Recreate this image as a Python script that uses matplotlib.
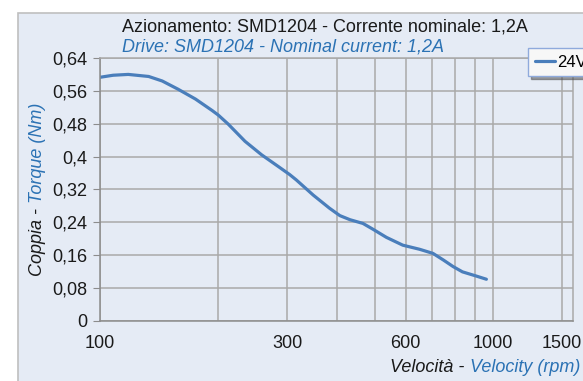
import matplotlib
matplotlib.use("Agg")
import matplotlib.pyplot as plt
from matplotlib.patches import Rectangle
from matplotlib.ticker import FixedLocator, FixedFormatter, NullFormatter

plt.rcParams['font.family'] = ['Liberation Sans', 'DejaVu Sans']

# torque curve (rpm, Nm)
speed = [100, 108, 118, 133, 144, 158, 175, 193, 200, 212, 234, 258, 285,
         304, 316, 349, 384, 408, 433, 467, 495, 536, 590, 651, 704, 748,
         792, 837, 906, 963]
torque = [0.593, 0.598, 0.600, 0.595, 0.584, 0.564, 0.540, 0.512, 0.501,
          0.479, 0.437, 0.404, 0.375, 0.356, 0.343, 0.306, 0.274, 0.256,
          0.246, 0.237, 0.223, 0.203, 0.184, 0.174, 0.164, 0.148, 0.132,
          0.119, 0.109, 0.101]

x_grid = [100, 200, 300, 400, 500, 600, 700, 800, 900, 1000, 1500]
x_labels = ['100', '', '300', '', '', '600', '', '', '', '1000', '1500']
y_ticks = [0, 0.08, 0.16, 0.24, 0.32, 0.4, 0.48, 0.56, 0.64]
y_labels = ['0', '0,08', '0,16', '0,24', '0,32', '0,4', '0,48', '0,56', '0,64']

W, H = 583, 381
bg = '#E5EBF5'
blue_txt = '#2B72B4'
line_col = '#4A7EBB'
grid_col = '#A9A9A9'

fig = plt.figure(figsize=(W / 100, H / 100), dpi=100)
fig.patch.set_facecolor('white')
# chart area panel
fig.patches.append(Rectangle((18 / W, -0.1), 1.0, (H - 13) / H + 0.1,
                             transform=fig.transFigure, facecolor=bg,
                             edgecolor='#BFBFBF', linewidth=1.2, zorder=-10))

ax = fig.add_axes([100 / W, 1 - 320.7 / H, (573 - 100) / W, (320.7 - 58) / H])
ax.set_facecolor(bg)
ax.plot(speed, torque, color=line_col, linewidth=2.3, label='24Vdc',
        solid_capstyle='round', solid_joinstyle='round')

ax.set_xscale('log')
ax.set_xlim(100, 1600)
ax.set_ylim(0, 0.64)

ax.xaxis.set_major_locator(FixedLocator(x_grid))
ax.xaxis.set_major_formatter(FixedFormatter(x_labels))
ax.xaxis.set_minor_locator(FixedLocator([100, 1000]))
ax.xaxis.set_minor_formatter(NullFormatter())
ax.tick_params(axis='x', which='major', length=0, pad=10, labelsize=13,
               colors='#1A1A1A')
ax.tick_params(axis='x', which='minor', length=5, color='#8C8C8C')

ax.set_yticks(y_ticks)
ax.set_yticklabels(y_labels)
ax.tick_params(axis='y', length=5, pad=4, labelsize=13, color='#8C8C8C',
               labelcolor='#1A1A1A')

ax.grid(True, which='major', color=grid_col, linewidth=1.1)
ax.set_axisbelow(True)
for s in ax.spines.values():
    s.set_color(grid_col)
    s.set_linewidth(1.1)
ax.spines['left'].set_color('#8C8C8C')
ax.spines['bottom'].set_color('#8C8C8C')

# titles
fig.text(122 / W, 1 - 31 / H, 'Azionamento: SMD1204 - Corrente nominale: 1,2A',
         fontsize=13, color='#1A1A1A', ha='left', va='baseline')
fig.text(122 / W, 1 - 51 / H, 'Drive: SMD1204 - Nominal current: 1,2A',
         fontsize=13, color=blue_txt, style='italic', ha='left', va='baseline')

# y label in two colours
t1 = fig.text(37 / W, 1 - 276 / H, 'Coppia - ', fontsize=13, style='italic',
              color='#1A1A1A', rotation=90, ha='center', va='bottom')
ax.annotate('Torque (Nm)', xy=(0.5, 1.0), xycoords=t1, fontsize=13,
            style='italic', color=blue_txt, rotation=90, ha='center',
            va='bottom', annotation_clip=False)

# x label in two colours
t2 = fig.text(580 / W, 1 - 376 / H, 'Velocity (rpm)', fontsize=13,
              style='italic', color=blue_txt, ha='right', va='bottom')
ax.annotate('Velocità - ', xy=(0.0, 0.0), xycoords=t2, fontsize=13,
            style='italic', color='#1A1A1A', ha='right', va='bottom',
            annotation_clip=False)

leg = ax.legend(loc='upper left', bbox_to_anchor=(528 / W, 1 - 48 / H),
                bbox_transform=fig.transFigure, borderaxespad=0,
                fontsize=12, handlelength=1.2, handletextpad=0.15,
                borderpad=0.4, fancybox=False, shadow=True, framealpha=1)
leg.get_frame().set_edgecolor('#8FAADC')
leg.get_frame().set_facecolor('#F7F7F7')

fig.savefig('out.png', dpi=100)
